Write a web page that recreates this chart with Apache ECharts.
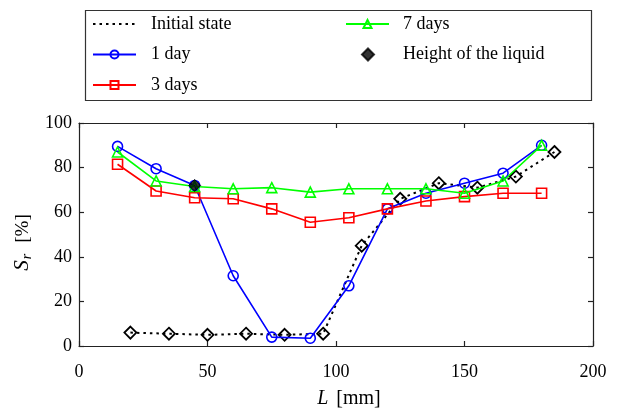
<!DOCTYPE html>
<html>
<head>
<meta charset="utf-8">
<script src="https://cdn.jsdelivr.net/npm/echarts@6/dist/echarts.min.js"></script>
<style>html,body{margin:0;padding:0;background:#fff;}#c{width:618px;height:414px;}</style>
</head>
<body>
<div id="c"></div>
<script>
// Data
var xDays = [15, 30, 45, 60, 75, 90, 105, 120, 135, 150, 165, 180];
var day1 = [89.5, 79.5, 72, 31.5, 4, 3.5, 27, 61.5, 68.5, 73, 77.5, 90];
var day3 = [81.5, 69.5, 66.5, 66, 61.5, 55.5, 57.5, 61.5, 65, 67, 68.5, 68.5];
var day7 = [87, 74, 71.5, 70.5, 71, 69, 70.5, 70.5, 70.5, 68.5, 74, 90];
var initX = [20, 35, 50, 65, 80, 95, 110, 125, 140, 155, 170, 185];
var initY = [6, 5.5, 5, 5.5, 5, 5.5, 45, 66, 73, 71, 76, 87];
var liquidX = [45];
var liquidY = [72];
var xTicks = [0, 50, 100, 150, 200];
var yTicks = [0, 20, 40, 60, 80, 100];

function pairs(xs, ys) { return xs.map(function (x, i) { return [x, ys[i]]; }); }

var FONT = 'Liberation Serif';
var chart = echarts.init(document.getElementById('c'), null, { renderer: 'canvas' });

function axisLine() { return { show: true, onZero: false, lineStyle: { color: '#222', width: 1.2 } }; }
function tick() { return { show: true, inside: true, length: 5, lineStyle: { color: '#222', width: 1.2 } }; }
var legendText = { fontFamily: FONT, fontSize: 18, color: '#000', lineHeight: 20 };

var option = {
  backgroundColor: '#fff',
  animation: false,
  grid: { left: 79, right: 25, top: 123, bottom: 60, containLabel: false },
  graphic: [{
    type: 'rect', left: 83, top: 8, silent: true,
    shape: { width: 506, height: 90 },
    style: { fill: 'none', stroke: '#333', lineWidth: 1.2 }
  }],
  legend: [{
    orient: 'vertical', left: 92, top: 14, padding: 0,
    itemWidth: 43, itemHeight: 10, itemGap: 10.5,
    textStyle: Object.assign({ padding: [0, 0, 0, 10] }, legendText),
    data: [{ name: 'Initial state', itemStyle: { opacity: 0 } }, '1 day', '3 days']
  }, {
    orient: 'vertical', left: 345, top: 14, padding: 0,
    itemWidth: 43, itemHeight: 10, itemGap: 10.5,
    textStyle: Object.assign({ padding: [0, 0, 0, 9] }, legendText),
    data: ['7 days']
  }, {
    orient: 'vertical', left: 361, top: 44.5, padding: 0,
    itemWidth: 12, itemHeight: 12, itemGap: 10.5,
    textStyle: Object.assign({ padding: [0, 0, 0, 24] }, legendText),
    data: [{ name: 'Height of the liquid', icon: 'diamond' }]
  }],
  xAxis: [{
    type: 'value', min: 0, max: 200, interval: 50, position: 'bottom',
    axisLine: axisLine(), axisTick: tick(), splitLine: { show: false },
    axisLabel: { fontFamily: FONT, fontSize: 18, color: '#000', margin: 17,
      formatter: function (v) { return xTicks.indexOf(v) >= 0 ? String(v) : ''; } },
    name: '{i|L}{t|[mm]}', nameLocation: 'middle', nameGap: 43,
    nameTextStyle: { fontFamily: FONT, fontSize: 20, color: '#000', padding: [0, 0, 0, 26],
      rich: {
        i: { fontFamily: FONT, fontSize: 20, fontStyle: 'italic', color: '#000' },
        t: { fontFamily: FONT, fontSize: 20, color: '#000', padding: [0, 0, 0, 8] }
      } }
  }, {
    type: 'value', min: 0, max: 200, interval: 50, position: 'top',
    axisLine: axisLine(), axisTick: tick(), axisLabel: { show: false }, splitLine: { show: false }
  }],
  yAxis: [{
    type: 'value', min: 0, max: 100, interval: 20, position: 'left',
    axisLine: axisLine(), axisTick: tick(), splitLine: { show: false },
    axisLabel: { fontFamily: FONT, fontSize: 18, color: '#000', margin: 7,
      formatter: function (v) { return yTicks.indexOf(v) >= 0 ? String(v) : ''; } },
    name: '{i|S}{sub|r}{t|[%]}', nameLocation: 'middle', nameGap: 40, nameRotate: 90,
    nameTextStyle: { fontFamily: FONT, fontSize: 20, color: '#000', padding: [0, 16, 0, 0],
      rich: {
        i: { fontFamily: FONT, fontSize: 21, fontStyle: 'italic', color: '#000' },
        sub: { fontFamily: FONT, fontSize: 14, fontStyle: 'italic', color: '#000', padding: [9, 0, 0, 1] },
        t: { fontFamily: FONT, fontSize: 19, color: '#000', padding: [0, 0, 0, 11] }
      } }
  }, {
    type: 'value', min: 0, max: 100, interval: 20, position: 'right',
    axisLine: axisLine(), axisTick: tick(), axisLabel: { show: false }, splitLine: { show: false }
  }],
  series: [{
    name: 'Initial state', type: 'line', data: pairs(initX, initY),
    symbol: 'diamond', symbolSize: 12,
    lineStyle: { color: '#000', width: 2, type: [2.5, 4] },
    itemStyle: { color: 'rgba(0,0,0,0)', borderColor: '#000', borderWidth: 1.8 },
    z: 2
  }, {
    name: '1 day', type: 'line', data: pairs(xDays, day1),
    symbol: 'circle', symbolSize: 10,
    lineStyle: { color: '#0000ff', width: 1.6 },
    itemStyle: { color: 'rgba(0,0,0,0)', borderColor: '#0000ff', borderWidth: 1.6 },
    z: 3
  }, {
    name: '3 days', type: 'line', data: pairs(xDays, day3),
    symbol: 'rect', symbolSize: 10,
    lineStyle: { color: '#ff0000', width: 1.6 },
    itemStyle: { color: 'rgba(0,0,0,0)', borderColor: '#ff0000', borderWidth: 1.6 },
    z: 3
  }, {
    name: '7 days', type: 'line', data: pairs(xDays, day7),
    symbol: 'triangle', symbolSize: 10,
    lineStyle: { color: '#00ff00', width: 1.6 },
    itemStyle: { color: 'rgba(0,0,0,0)', borderColor: '#00ff00', borderWidth: 1.6 },
    z: 4
  }, {
    name: 'Height of the liquid', type: 'scatter', data: pairs(liquidX, liquidY),
    symbol: 'diamond', symbolSize: 12,
    itemStyle: { color: '#000', borderColor: '#000', borderWidth: 1 },
    z: 5
  }]
};
chart.setOption(option);
</script>
</body>
</html>
